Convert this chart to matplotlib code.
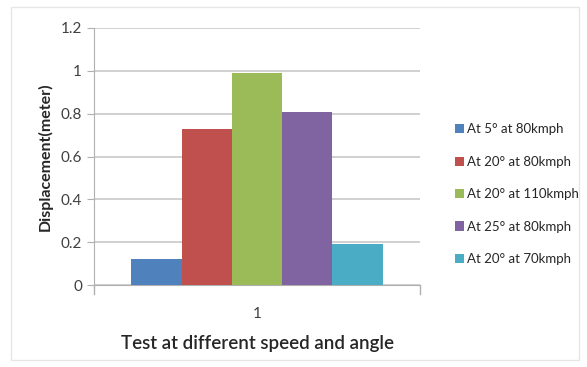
import matplotlib.pyplot as plt
from matplotlib.patches import Rectangle

plt.rcParams['font.family'] = ['Lato', 'DejaVu Sans']

# data
categories = ['1']
series_labels = ['At 5° at 80kmph', 'At 20° at 80kmph', 'At 20° at 110kmph',
                 'At 25° at 80kmph', 'At 20° at 70kmph']
values = [0.12, 0.73, 0.99, 0.81, 0.19]
colors = ['#4F81BD', '#C0504D', '#9BBB59', '#8064A2', '#4BACC6']
yticks = [0, 0.2, 0.4, 0.6, 0.8, 1, 1.2]
ytick_labels = ['0', '0.2', '0.4', '0.6', '0.8', '1', '1.2']

fig = plt.figure(figsize=(5.87, 3.67), dpi=100)
fig.patch.set_facecolor('white')
# faint chart frame
fig.patches.append(Rectangle((0.018, 0.02), 0.968, 0.96, transform=fig.transFigure,
                             fill=False, edgecolor='#e6e6e6', linewidth=1.0))

ax = fig.add_axes([0.160, 0.223, 0.556, 0.701])

bar_w = 0.154
n = len(values)
for i, (v, c, lab) in enumerate(zip(values, colors, series_labels)):
    x = (i - (n - 1) / 2) * bar_w
    ax.bar(x, v, width=bar_w, color=c, label=lab, zorder=3, linewidth=0)

ax.set_xlim(-0.5, 0.5)
ax.set_ylim(0, 1.2)
ax.set_yticks(yticks)
ax.set_yticklabels(ytick_labels)
ax.set_xticks([0])
ax.set_xticklabels(categories)
ax.grid(axis='y', color='#c8c8c8', linewidth=1.2, zorder=0)

for s in ['top', 'right']:
    ax.spines[s].set_visible(False)
ax.spines['left'].set_color('#b0b0b0')
ax.spines['bottom'].set_color('#b0b0b0')
ax.tick_params(axis='y', colors='#b0b0b0', labelcolor='#404040', labelsize=11, length=5)
ax.tick_params(axis='x', length=0, labelcolor='#404040', labelsize=11, pad=16)
# small end ticks on the category axis
ax.plot([-0.5, -0.5], [0, -0.04], color='#b0b0b0', lw=1, clip_on=False)
ax.plot([0.5, 0.5], [0, -0.04], color='#b0b0b0', lw=1, clip_on=False)

ax.set_ylabel('Displacement(meter)', fontsize=11.5, fontweight='bold', color='#262626', labelpad=6)
ax.set_xlabel('Test at different speed and angle', fontsize=13.5, fontweight='semibold',
              color='#262626', labelpad=10)

ax.legend(loc='upper left', bbox_to_anchor=(1.07, 0.675), frameon=False,
          handlelength=0.7, handleheight=0.7, handletextpad=0.2,
          labelspacing=1.55, fontsize=9.5, labelcolor='#262626')

fig.savefig('out.png', dpi=100)
